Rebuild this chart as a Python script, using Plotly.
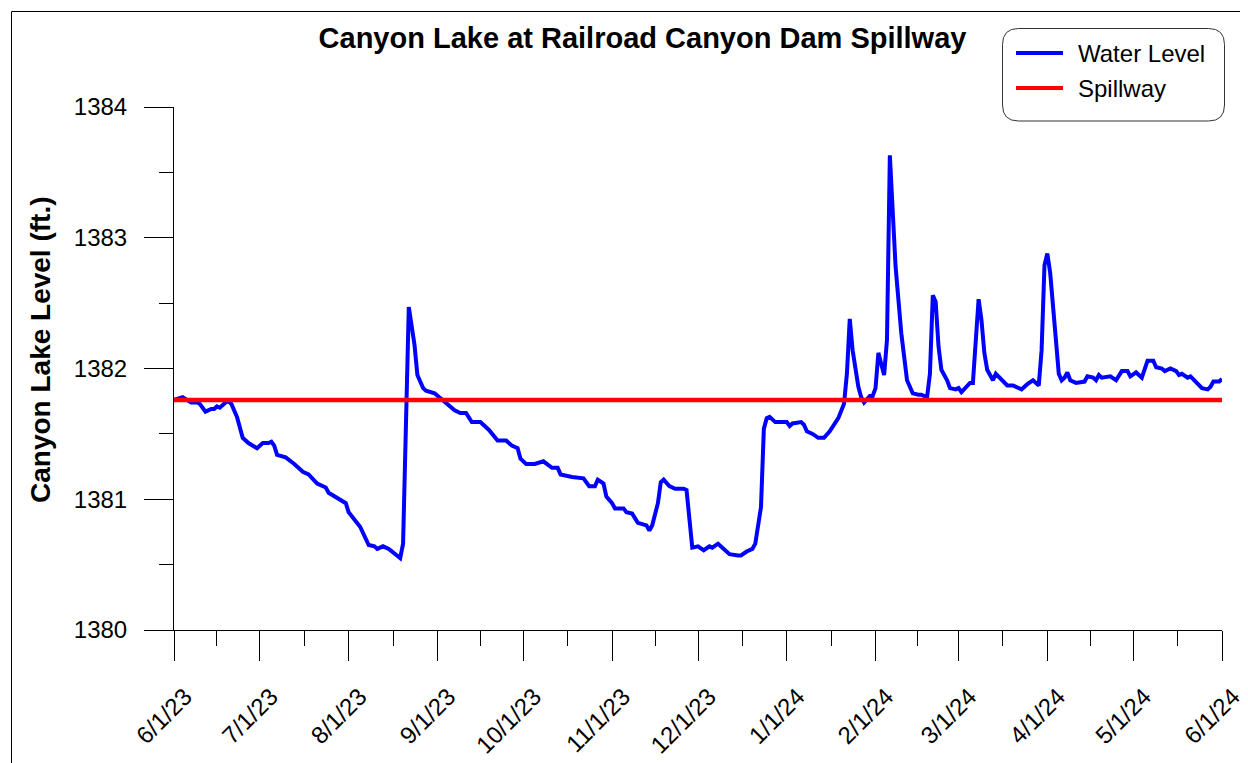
import plotly.graph_objects as go
import pandas as pd

# ---------------- data ----------------
dates = [
    "2023-06-01", "2023-06-04", "2023-06-07", "2023-06-09", "2023-06-10", "2023-06-12", "2023-06-14",
    "2023-06-15", "2023-06-16", "2023-06-17", "2023-06-19", "2023-06-20", "2023-06-21", "2023-06-23",
    "2023-06-25", "2023-06-27", "2023-06-30", "2023-07-02", "2023-07-04", "2023-07-05", "2023-07-06",
    "2023-07-07", "2023-07-10", "2023-07-13", "2023-07-16", "2023-07-18", "2023-07-21", "2023-07-24",
    "2023-07-25", "2023-07-28", "2023-07-31", "2023-08-01", "2023-08-04", "2023-08-05", "2023-08-08",
    "2023-08-10", "2023-08-11", "2023-08-13", "2023-08-15", "2023-08-19", "2023-08-20", "2023-08-21",
    "2023-08-22", "2023-08-24", "2023-08-25", "2023-08-27", "2023-08-28", "2023-08-31", "2023-09-02",
    "2023-09-05", "2023-09-07", "2023-09-09", "2023-09-11", "2023-09-13", "2023-09-16", "2023-09-19",
    "2023-09-22", "2023-09-25", "2023-09-27", "2023-09-29", "2023-09-30", "2023-10-02", "2023-10-05",
    "2023-10-08", "2023-10-11", "2023-10-13", "2023-10-14", "2023-10-18", "2023-10-22", "2023-10-24",
    "2023-10-26", "2023-10-27", "2023-10-29", "2023-10-30", "2023-11-01", "2023-11-02", "2023-11-05",
    "2023-11-06", "2023-11-08", "2023-11-10", "2023-11-13", "2023-11-14", "2023-11-15", "2023-11-17",
    "2023-11-18", "2023-11-19", "2023-11-21", "2023-11-23", "2023-11-25", "2023-11-26", "2023-11-27",
    "2023-11-29", "2023-12-01", "2023-12-03", "2023-12-05", "2023-12-06", "2023-12-08", "2023-12-10",
    "2023-12-12", "2023-12-15", "2023-12-16", "2023-12-18", "2023-12-20", "2023-12-21", "2023-12-23",
    "2023-12-24", "2023-12-25", "2023-12-26", "2023-12-28", "2023-12-30", "2024-01-01", "2024-01-02",
    "2024-01-03", "2024-01-06", "2024-01-07", "2024-01-08", "2024-01-10", "2024-01-12", "2024-01-14",
    "2024-01-16", "2024-01-19", "2024-01-21", "2024-01-22", "2024-01-23", "2024-01-24", "2024-01-26",
    "2024-01-27", "2024-01-28", "2024-01-30", "2024-01-31", "2024-02-01", "2024-02-02", "2024-02-04",
    "2024-02-05", "2024-02-06", "2024-02-08", "2024-02-10", "2024-02-12", "2024-02-14", "2024-02-16",
    "2024-02-17", "2024-02-19", "2024-02-20", "2024-02-21", "2024-02-22", "2024-02-23", "2024-02-24",
    "2024-02-26", "2024-02-27", "2024-02-29", "2024-03-01", "2024-03-02", "2024-03-04", "2024-03-05",
    "2024-03-06", "2024-03-07", "2024-03-08", "2024-03-09", "2024-03-10", "2024-03-11", "2024-03-13",
    "2024-03-14", "2024-03-16", "2024-03-18", "2024-03-20", "2024-03-23", "2024-03-25", "2024-03-27",
    "2024-03-29", "2024-03-30", "2024-03-31", "2024-04-01", "2024-04-02", "2024-04-04", "2024-04-05",
    "2024-04-06", "2024-04-07", "2024-04-08", "2024-04-09", "2024-04-11", "2024-04-14", "2024-04-15",
    "2024-04-17", "2024-04-18", "2024-04-19", "2024-04-20", "2024-04-23", "2024-04-25", "2024-04-27",
    "2024-04-29", "2024-04-30", "2024-05-02", "2024-05-04", "2024-05-06", "2024-05-08", "2024-05-09",
    "2024-05-11", "2024-05-12", "2024-05-14", "2024-05-16", "2024-05-17", "2024-05-18", "2024-05-20",
    "2024-05-21", "2024-05-23", "2024-05-25", "2024-05-27", "2024-05-28", "2024-05-29", "2024-05-31",
    "2024-06-01",
]

water_level = [
    1381.76, 1381.78, 1381.74, 1381.74, 1381.73, 1381.67, 1381.69,
    1381.69, 1381.71, 1381.70, 1381.74, 1381.75, 1381.73, 1381.63,
    1381.47, 1381.43, 1381.39, 1381.43, 1381.43, 1381.44, 1381.41,
    1381.34, 1381.32, 1381.27, 1381.21, 1381.19, 1381.12, 1381.09,
    1381.05, 1381.01, 1380.97, 1380.90, 1380.82, 1380.79, 1380.65,
    1380.64, 1380.62, 1380.64, 1380.62, 1380.55, 1380.66, 1381.50,
    1382.47, 1382.18, 1381.95, 1381.85, 1381.83, 1381.81, 1381.77,
    1381.72, 1381.68, 1381.66, 1381.66, 1381.59, 1381.59, 1381.53,
    1381.45, 1381.45, 1381.41, 1381.39, 1381.31, 1381.27, 1381.27,
    1381.29, 1381.24, 1381.24, 1381.19, 1381.17, 1381.16, 1381.10,
    1381.10, 1381.15, 1381.12, 1381.02, 1380.97, 1380.93, 1380.93,
    1380.90, 1380.89, 1380.82, 1380.80, 1380.76, 1380.80, 1380.97,
    1381.13, 1381.15, 1381.10, 1381.08, 1381.08, 1381.08, 1381.07,
    1380.63, 1380.64, 1380.61, 1380.64, 1380.63, 1380.66, 1380.62,
    1380.58, 1380.57, 1380.57, 1380.60, 1380.62, 1380.66, 1380.94,
    1381.54, 1381.62, 1381.63, 1381.59, 1381.59, 1381.59, 1381.56,
    1381.58, 1381.59, 1381.57, 1381.52, 1381.50, 1381.47, 1381.47,
    1381.52, 1381.62, 1381.73, 1381.96, 1382.38, 1382.14, 1381.86,
    1381.78, 1381.74, 1381.79, 1381.79, 1381.85, 1382.12, 1381.95,
    1382.22, 1383.63, 1382.78, 1382.27, 1381.91, 1381.81, 1381.80,
    1381.80, 1381.78, 1381.96, 1382.56, 1382.51, 1382.17, 1381.99,
    1381.91, 1381.85, 1381.84, 1381.85, 1381.82, 1381.86, 1381.89,
    1381.89, 1382.27, 1382.53, 1382.37, 1382.12, 1381.99, 1381.91,
    1381.96, 1381.91, 1381.87, 1381.87, 1381.84, 1381.88, 1381.91,
    1381.87, 1382.14, 1382.79, 1382.88, 1382.73, 1382.22, 1381.96,
    1381.91, 1381.93, 1381.97, 1381.91, 1381.89, 1381.90, 1381.94,
    1381.93, 1381.91, 1381.95, 1381.93, 1381.94, 1381.91, 1381.98,
    1381.98, 1381.94, 1381.97, 1381.93, 1382.06, 1382.06, 1382.01,
    1382.00, 1381.98, 1382.00, 1381.98, 1381.95, 1381.96, 1381.93,
    1381.94, 1381.89, 1381.85, 1381.84, 1381.86, 1381.90, 1381.90,
    1381.92,
]

spillway_dates = ["2023-06-01", "2024-06-01"]
spillway_level = [1381.76, 1381.76]

month_ticks = [
    "2023-06-01", "2023-07-01", "2023-08-01", "2023-09-01", "2023-10-01", "2023-11-01", "2023-12-01",
    "2024-01-01", "2024-02-01", "2024-03-01", "2024-04-01", "2024-05-01", "2024-06-01",
]
month_labels = [
    "6/1/23", "7/1/23", "8/1/23", "9/1/23", "10/1/23", "11/1/23", "12/1/23",
    "1/1/24", "2/1/24", "3/1/24", "4/1/24", "5/1/24", "6/1/24",
]
y_ticks = [1380, 1381, 1382, 1383, 1384]
y_minor = [1380.5, 1381.5, 1382.5, 1383.5]

title_text = "Canyon Lake at Railroad Canyon Dam Spillway"
y_title_text = "Canyon Lake Level (ft.)"
series_names = ["Water Level", "Spillway"]

# ---------------- layout geometry (window pixel coords) ----------------
WIN_W, WIN_H = 1248, 763
OFF = 8                      # page body margin
W, H = WIN_W - OFF, WIN_H - OFF
PL, PR, PT, PB = 174, 1222, 107, 630
FONT = "Arial, Liberation Sans, sans-serif"

def px(x):
    return (x - PL) / (PR - PL)

def py(y):
    return (PB - y) / (PB - PT)

mt = pd.to_datetime(month_ticks)
minor_ticks = [(a + (b - a) / 2) for a, b in zip(mt[:-1], mt[1:])]

fig = go.Figure()
fig.add_trace(go.Scatter(
    x=dates, y=water_level, mode="lines", name=series_names[0],
    line=dict(color="#0000FF", width=4), showlegend=False, hoverinfo="skip",
))
fig.add_trace(go.Scatter(
    x=spillway_dates, y=spillway_level, mode="lines", name=series_names[1],
    line=dict(color="#FF0000", width=4.5), showlegend=False, hoverinfo="skip",
))

fig.update_layout(
    width=W, height=H,
    margin=dict(l=PL - OFF, r=WIN_W - PR, t=PT - OFF, b=WIN_H - PB, pad=0, autoexpand=False),
    paper_bgcolor="white", plot_bgcolor="white",
    font=dict(family=FONT, color="black"),
    title=dict(
        text="<b>" + title_text + "</b>", x=(642.5 - OFF) / W, xref="container", xanchor="center",
        y=1 - (38 - OFF) / H, yref="container", yanchor="middle",
        font=dict(size=29, family=FONT, color="black"),
    ),
    xaxis=dict(
        type="date", range=[month_ticks[0], month_ticks[-1]],
        tickmode="array", tickvals=month_ticks, ticktext=month_labels,
        ticks="outside", ticklen=30, tickwidth=1, tickcolor="black",
        showline=True, linecolor="black", linewidth=1,
        showgrid=False, zeroline=False, tickangle=-45, automargin=False,
        ticklabeloverflow="allow",
        tickfont=dict(size=24, family=FONT, color="black"),
        ticklabelshift=11, ticklabelstandoff=12,
        minor=dict(tickmode="array", tickvals=minor_ticks, ticks="outside",
                   ticklen=15, tickwidth=1, tickcolor="black", showgrid=False),
    ),
    yaxis=dict(
        range=[1380, 1384], tickmode="array", tickvals=y_ticks,
        ticks="outside", ticklen=29, tickwidth=1, tickcolor="black",
        showline=True, linecolor="black", linewidth=1,
        showgrid=False, zeroline=False, automargin=False,
        tickfont=dict(size=24, family=FONT, color="black"),
        ticklabelstandoff=12,
        minor=dict(tickmode="array", tickvals=y_minor, ticks="outside",
                   ticklen=14, tickwidth=1, tickcolor="black", showgrid=False),
    ),
    showlegend=False,
)

# y-axis title
fig.add_annotation(
    text="<b>" + y_title_text + "</b>", xref="paper", yref="paper",
    x=px(40), y=py(350), xanchor="center", yanchor="middle", textangle=-90,
    showarrow=False, font=dict(size=28, family=FONT, color="black"),
)

# outer frame
fig.add_shape(type="rect", xref="paper", yref="paper",
              x0=px(11.5), y0=py(11.5), x1=px(1270), y1=py(790),
              line=dict(color="black", width=1), fillcolor="rgba(0,0,0,0)", layer="below")

# legend box with rounded corners
def rounded_rect(x0, y0, x1, y1, r):
    pts = []
    pts.append(f"M {px(x0 + r)},{py(y0)}")
    pts.append(f"L {px(x1 - r)},{py(y0)}")
    pts.append(f"Q {px(x1)},{py(y0)} {px(x1)},{py(y0 + r)}")
    pts.append(f"L {px(x1)},{py(y1 - r)}")
    pts.append(f"Q {px(x1)},{py(y1)} {px(x1 - r)},{py(y1)}")
    pts.append(f"L {px(x0 + r)},{py(y1)}")
    pts.append(f"Q {px(x0)},{py(y1)} {px(x0)},{py(y1 - r)}")
    pts.append(f"L {px(x0)},{py(y0 + r)}")
    pts.append(f"Q {px(x0)},{py(y0)} {px(x0 + r)},{py(y0)} Z")
    return " ".join(pts)

fig.add_shape(type="path", xref="paper", yref="paper",
              path=rounded_rect(1002.5, 28.5, 1224.5, 121, 16),
              line=dict(color="#333333", width=1), fillcolor="white")

legend_colors = ["#0000FF", "#FF0000"]
legend_rows = [53, 88]
for name, col, yy in zip(series_names, legend_colors, legend_rows):
    fig.add_shape(type="line", xref="paper", yref="paper",
                  x0=px(1016), x1=px(1063), y0=py(yy), y1=py(yy),
                  line=dict(color=col, width=4))
    fig.add_annotation(text=name, xref="paper", yref="paper",
                       x=px(1076), y=py(yy), xanchor="left", yanchor="middle",
                       showarrow=False, font=dict(size=24, family=FONT, color="black"))

fig.write_html("out.html", config={"displayModeBar": False})
